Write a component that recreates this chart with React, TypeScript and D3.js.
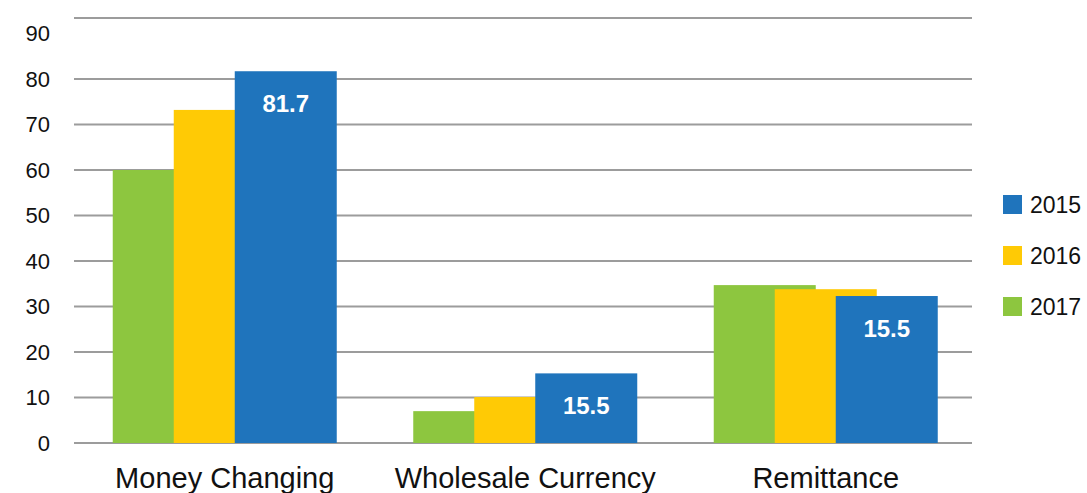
import React from "react";
import * as d3 from "d3";

const categories = ["Money Changing", "Wholesale Currency", "Remittance"];
const seriesNames = ["2017", "2016", "2015"];
const values2017 = [60.0, 7.0, 34.7];
const values2016 = [73.2, 10.1, 33.8];
const values2015 = [81.7, 15.3, 32.3];
const labels2015 = ["81.7", "15.5", "15.5"];
const yTicks = [0, 10, 20, 30, 40, 50, 60, 70, 80, 90];
const gridTicks = [0, 10, 20, 30, 40, 50, 60, 70, 80];
const legendOrder = ["2015", "2016", "2017"];

const colors: Record<string, string> = {
  "2017": "#8DC63F",
  "2016": "#FFCA05",
  "2015": "#1F74BC",
};

const W = 1087;
const H = 493;
const FONT = "'Liberation Sans', Arial, Helvetica, sans-serif";

export default function App() {
  const series = [values2017, values2016, values2015];
  const x = d3.scaleBand<string>().domain(categories).range([74.5, 976]).padding(0);
  const y = d3.scaleLinear().domain([0, 93.4]).range([443, 18]);
  const barW = 102;
  const step = 61;
  const groupW = barW + step * 2;

  return (
    <div style={{ position: "absolute", left: 0, top: 0 }}>
      <svg width={W} height={H} style={{ display: "block", background: "#fff" }}>
        {gridTicks.map((t) => (
          <line key={t} x1={74} x2={972} y1={y(t)} y2={y(t)} stroke="#9c9c9c" strokeWidth={2} />
        ))}
        <line x1={74} x2={972} y1={y(93.4)} y2={y(93.4)} stroke="#9c9c9c" strokeWidth={2} />
        {yTicks.map((t) => (
          <text key={t} x={50} y={y(t) + 8} textAnchor="end" fontFamily={FONT} fontSize={22} fill="#111">
            {t}
          </text>
        ))}
        {categories.map((c, ci) => {
          const cx = (x(c) as number) + x.bandwidth() / 2;
          const x0 = cx - groupW / 2;
          return (
            <g key={c}>
              {series.map((vals, si) => (
                <rect
                  key={si}
                  x={x0 + si * step}
                  y={y(vals[ci])}
                  width={barW}
                  height={y(0) - y(vals[ci])}
                  fill={colors[seriesNames[si]]}
                />
              ))}
              <text
                x={x0 + 2 * step + barW / 2}
                y={y(values2015[ci]) + 41}
                textAnchor="middle"
                fontFamily={FONT}
                fontWeight="bold"
                fontSize={24}
                fill="#fff"
              >
                {labels2015[ci]}
              </text>
              <text x={cx} y={488} textAnchor="middle" fontFamily={FONT} fontSize={29} fill="#111">
                {c}
              </text>
            </g>
          );
        })}
        {legendOrder.map((s, i) => (
          <g key={s} transform={`translate(1003, ${195 + i * 51})`}>
            <rect x={0} y={0} width={19} height={19} fill={colors[s]} />
            <text x={27} y={18} fontFamily={FONT} fontSize={23} fill="#111">
              {s}
            </text>
          </g>
        ))}
      </svg>
    </div>
  );
}
